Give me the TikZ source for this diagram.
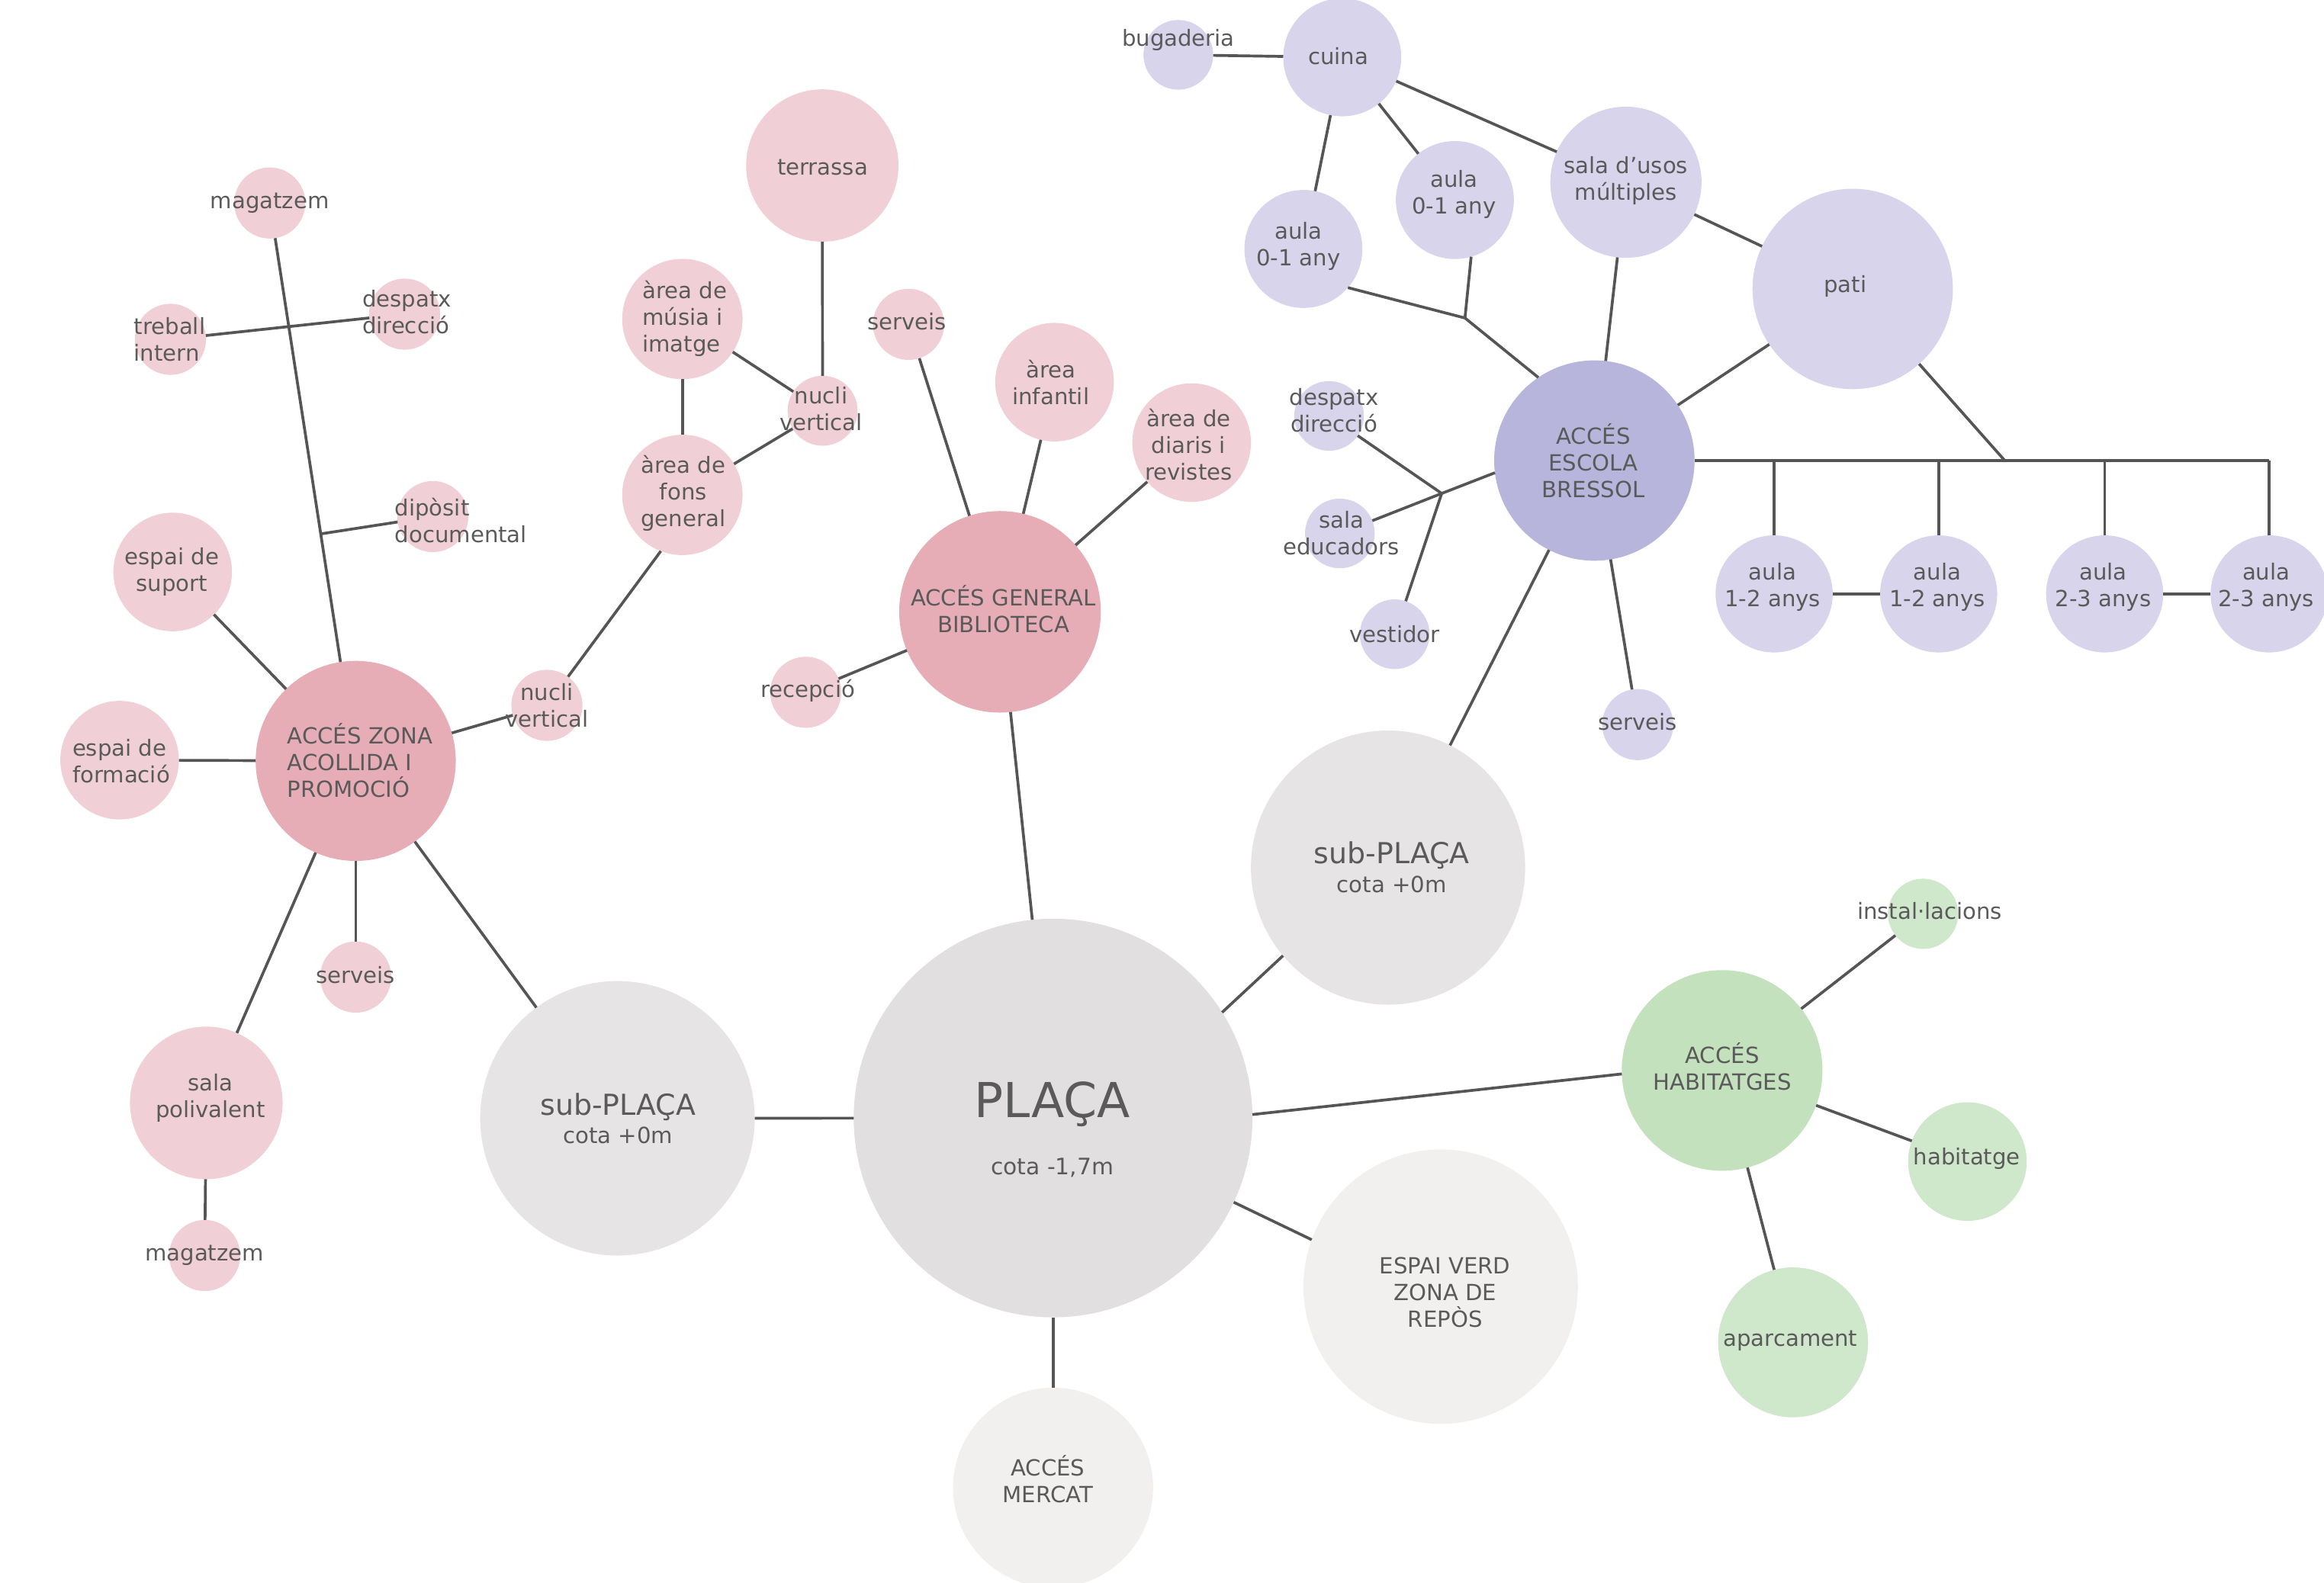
\documentclass[tikz,border=0pt]{standalone}
\usepackage{fontspec}
\setmainfont{DejaVu Sans}
\definecolor{pinkL}{HTML}{F0D0D6}
\definecolor{pinkH}{HTML}{E6ADB6}
\definecolor{purL}{HTML}{D7D4EB}
\definecolor{purH}{HTML}{B8B5DC}
\definecolor{grnL}{HTML}{CFE7CA}
\definecolor{grnH}{HTML}{C3E1BC}
\definecolor{grayS}{HTML}{E6E4E5}
\definecolor{grayP}{HTML}{E1DFE0}
\definecolor{grayL}{HTML}{F2F0EF}
\definecolor{txt}{HTML}{5A5A5A}
\definecolor{lnc}{HTML}{555555}
\begin{document}
\begin{tikzpicture}[x=1pt,y=-1pt,
  bub/.style={circle, inner sep=0pt, outer sep=0pt, minimum size={2*#1*1pt}, draw=none},
  pk/.style={bub=#1, fill=pinkL},
  pkh/.style={bub=#1, fill=pinkH},
  pu/.style={bub=#1, fill=purL},
  puh/.style={bub=#1, fill=purH},
  gr/.style={bub=#1, fill=grnL},
  grh/.style={bub=#1, fill=grnH},
  gs/.style={bub=#1, fill=grayS},
  gp/.style={bub=#1, fill=grayP},
  gl/.style={bub=#1, fill=grayL},
  conn/.style={draw=lnc, line width=1.9pt},
  lbl/.style={text=txt, font=\fontsize{15}{18}\selectfont, align=center, inner sep=0pt},
  lbll/.style={lbl, align=left},
  big/.style={text=txt, font=\fontsize{19.5}{22}\selectfont, inner sep=0pt},
  huge/.style={text=txt, font=\fontsize{32.5}{36}\selectfont, inner sep=0pt}
]
\useasboundingbox (0,0) rectangle (1568,1068);

% ---------- pink (library / acollida) ----------
\node[pk=24] (mag1) at (182,137) {};
\node[pk=24] (treb) at (115,229) {};
\node[pk=24] (desp1) at (273,212) {};
\node[pk=24] (dipo) at (292,348.6) {};
\node[pk=40] (suport) at (116.5,386) {};
\node[pk=40] (form) at (80.7,513) {};
\node[pkh=67.5] (zona) at (240,513.5) {};
\node[pk=24] (nucliL) at (369,476) {};
\node[pk=24] (servL) at (240,659.4) {};
\node[pk=51.5] (poli) at (139.2,744.3) {};
\node[pk=24] (mag2) at (138.1,847.3) {};
\node[pkh=68] (gb) at (674.7,412.9) {};
\node[pk=24] (recep) at (543.6,467.2) {};
\node[pk=24] (servM) at (613,218.9) {};
\node[pk=40] (infant) at (711.5,257.9) {};
\node[pk=40] (diaris) at (804,298.7) {};
\node[pk=51.4] (terr) at (554.8,111.7) {};
\node[pk=40.6] (musica) at (460.4,215.3) {};
\node[pk=23.6] (nucliU) at (555,277.2) {};
\node[pk=40.6] (fons) at (460.4,334) {};

% ---------- grey ----------
\node[gs=92.6] (subL) at (416.6,754.7) {};
\node[gp=134.5] (plaza) at (710.5,754.5) {};
\node[gl=67.5] (mercat) at (710.5,1004) {};
\node[gl=92.6] (verd) at (972,868.3) {};
\node[gs=92.5] (subR) at (936.5,585.5) {};

% ---------- purple (escola bressol) ----------
\node[pu=23.5] (bug) at (795,37) {};
\node[pu=39.8] (cuina) at (905.6,38.7) {};
\node[pu=39.8] (aulaL) at (879.4,168) {};
\node[pu=39.8] (aulaR) at (981.6,135) {};
\node[pu=51] (sala) at (1097,123) {};
\node[pu=67.6] (pati) at (1250,195) {};
\node[puh=67.6] (hub) at (1075.7,310.8) {};
\node[pu=23.5] (despP) at (896.7,280.7) {};
\node[pu=23.5] (saled) at (904,360) {};
\node[pu=23.5] (vest) at (941,428) {};
\node[pu=24] (servP) at (1105,489) {};
\node[pu=39.5] (a1) at (1197,400.8) {};
\node[pu=39.5] (a2) at (1308,400.8) {};
\node[pu=39.5] (a3) at (1420,400.8) {};
\node[pu=39.5] (a4) at (1531,400.8) {};

% ---------- green (habitatges) ----------
\node[grh=67.7] (hab) at (1161.9,722.4) {};
\node[gr=23.7] (inst) at (1297.5,616.7) {};
\node[gr=40] (habit) at (1327.4,783.9) {};
\node[gr=50.6] (aparc) at (1209.8,905.9) {};

% ---------- junctions ----------
\coordinate (jdip) at (216.4,360.3);
\coordinate (J1) at (988.4,214.6);
\coordinate (J2) at (1352.6,310.8);
\coordinate (J3) at (972.7,333);
\coordinate (busend) at (1531,310.8);

% ---------- connectors ----------
\draw[conn] (mag1) -- (zona);
\draw[conn] (treb) -- (desp1);
\draw[conn] (jdip) -- (dipo);
\draw[conn] (suport) -- (zona);
\draw[conn] (form) -- (zona);
\draw[conn] (zona) -- (nucliL);
\draw[conn] (zona) -- (servL);
\draw[conn] (zona) -- (poli);
\draw[conn] (zona) -- (subL);
\draw[conn] (poli) -- (mag2);
\draw[conn] (fons.249) -- (nucliL);
\draw[conn] (terr) -- (nucliU);
\draw[conn] (musica) -- (nucliU);
\draw[conn] (musica) -- (fons);
\draw[conn] (fons) -- (nucliU);
\draw[conn] (servM) -- (gb);
\draw[conn] (infant) -- (gb);
\draw[conn] (diaris) -- (gb);
\draw[conn] (recep) -- (gb);
\draw[conn] (gb) -- (plaza);
\draw[conn] (subL) -- (plaza);
\draw[conn] (plaza) -- (mercat);
\draw[conn] (plaza.32) -- (subR.220);
\draw[conn] (plaza.-25) -- (verd.160);
\draw[conn] (plaza.1) -- (hab.182);
\draw[conn] (hab) -- (inst);
\draw[conn] (hab) -- (habit);
\draw[conn] (hab) -- (aparc);
\draw[conn] (subR) -- (hub);
\draw[conn] (bug) -- (cuina);
\draw[conn] (cuina) -- (sala);
\draw[conn] (cuina) -- (aulaL);
\draw[conn] (cuina) -- (aulaR);
\draw[conn] (aulaL.-41) -- (J1);
\draw[conn] (aulaR.-74) -- (J1);
\draw[conn] (J1) -- (hub.124);
\draw[conn] (sala) -- (hub);
\draw[conn] (sala) -- (pati);
\draw[conn] (pati) -- (hub);
\draw[conn] (pati) -- (J2);
\draw[conn] (hub.east) -- (busend);
\draw[conn] (a1 |- busend) -- (a1);
\draw[conn] (a2 |- busend) -- (a2);
\draw[conn] (a3 |- busend) -- (a3);
\draw[conn] (busend) -- (a4);
\draw[conn] (a1) -- (a2);
\draw[conn] (a3) -- (a4);
\draw[conn] (despP) -- (J3);
\draw[conn] (saled) -- (J3);
\draw[conn] (J3) -- (vest);
\draw[conn] (J3) -- (hub.187);
\draw[conn] (hub) -- (servP);

% ---------- texts ----------
\node[lbl] (tmag1) at (182,137) {magatzem};
\node[lbll] (ttreb) at (114.5,229) {treball\\intern};
\node[lbll] (tdesp1) at (274.5,210.5) {despatx\\direcció};
\node[lbll] (tdipo) at (311,351) {dipòsit\\documental};
\node[lbl] (tsuport) at (116,386) {espai de\\suport};
\node[lbll] (tform) at (81.8,513.4) {espai de\\formació};
\node[lbll] (tzona) at (243,513) {ACCÉS ZONA\\ACOLLIDA I\\PROMOCIÓ};
\node[lbl] (tnucliL) at (369,476) {nucli\\vertical};
\node[lbl] (tservL) at (240,658) {serveis};
\node[lbl] (tpoli) at (142,741) {sala\\polivalent};
\node[lbl] (tmag2) at (138,847) {magatzem};
\node[lbl] (tgb) at (677,411) {ACCÉS GENERAL\\BIBLIOTECA};
\node[lbl] (trecep) at (545,466) {recepció};
\node[lbl] (tservM) at (612,217) {serveis};
\node[lbl] (tinfant) at (709,258) {àrea\\infantil};
\node[lbl] (tdiaris) at (802,300) {àrea de\\diaris i\\revistes};
\node[lbl] (tterr) at (555,113) {terrassa};
\node[lbll] (tmusica) at (462,215) {àrea de\\músia i\\imatge};
\node[lbl] (tnucliU) at (554,276) {nucli\\vertical};
\node[lbl] (tfons) at (461,333) {àrea de\\fons\\general};

\node[big] (tsubL) at (417,747) {sub-PLAÇA};
\node[lbl] (tsubLc) at (417,766) {cota +0m};
\node[huge] (tplaza) at (710,745) {PLAÇA};
\node[lbl, font=\fontsize{15.3}{18}\selectfont] (tplazac) at (710,788) {cota -1,7m};
\node[lbl] (tmercat) at (707,998) {ACCÉS\\MERCAT};
\node[lbl] (tverd) at (975,872) {ESPAI VERD\\ZONA DE\\REPÒS};
\node[big] (tsubR) at (939,577) {sub-PLAÇA};
\node[lbl] (tsubRc) at (939,597) {cota +0m};

\node[lbl] (tbug) at (795,27) {bugaderia};
\node[lbl] (tcuina) at (903,38) {cuina};
\node[lbl] (taulaL) at (876,166) {aula\\0-1 any};
\node[lbl] (taulaR) at (981,131) {aula\\0-1 any};
\node[lbl] (tsala) at (1097,122) {sala d’usos\\múltiples};
\node[lbl] (tpati) at (1245,193) {pati};
\node[lbl] (thub) at (1075,311) {ACCÉS\\ESCOLA\\BRESSOL};
\node[lbl] (tdespP) at (900,277) {despatx\\direcció};
\node[lbl] (tsaled) at (905,360) {sala\\educadors};
\node[lbl] (tvest) at (941,428) {vestidor};
\node[lbl] (tservP) at (1105,487) {serveis};
\node[lbl] (ta1) at (1196,396) {aula\\1-2 anys};
\node[lbl] (ta2) at (1307,396) {aula\\1-2 anys};
\node[lbl] (ta3) at (1419,396) {aula\\2-3 anys};
\node[lbl] (ta4) at (1529,396) {aula\\2-3 anys};

\node[lbl] (thab) at (1162,720) {ACCÉS\\HABITATGES};
\node[lbl] (tinst) at (1302,615) {instal·lacions};
\node[lbl] (thabit) at (1327,782) {habitatge};
\node[lbl] (taparc) at (1208,905) {aparcament};
\end{tikzpicture}
\end{document}
